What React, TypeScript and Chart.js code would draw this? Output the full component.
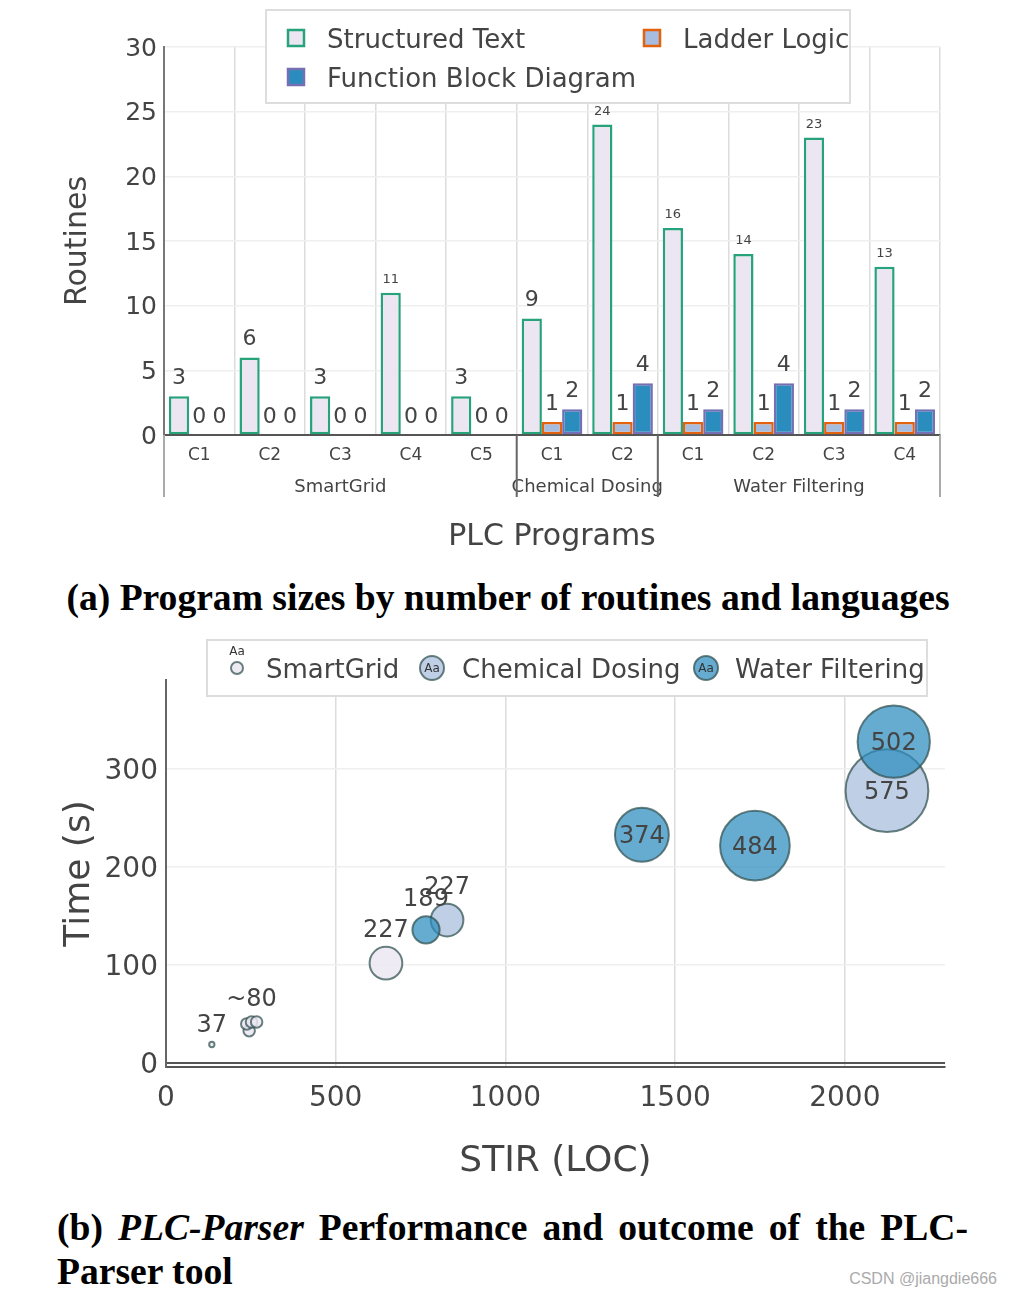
import React, { useEffect, useRef } from "react";
import { Chart, registerables } from "chart.js";

Chart.register(...registerables);

// ---------- (a) Program sizes ----------
const programLabels = ["C1", "C2", "C3", "C4", "C5", "C1", "C2", "C1", "C2", "C3", "C4"];
const programGroups = ["SmartGrid", "Chemical Dosing", "Water Filtering"];
const programGroupSizes = [5, 2, 4];
const structuredText = [3, 6, 3, 11, 3, 9, 24, 16, 14, 23, 13];
const ladderLogic = [0, 0, 0, 0, 0, 1, 1, 1, 1, 1, 1];
const functionBlock = [0, 0, 0, 0, 0, 2, 4, 2, 4, 2, 2];
const routineTicks = [0, 5, 10, 15, 20, 25, 30];

// ---------- (b) PLC-Parser performance ----------
const smartGridStir = [135, 245, 238, 252, 267, 648];
const smartGridTime = [19, 33, 40, 42, 42, 102];
const smartGridSize = [37, 80, 80, 80, 80, 227];
const smartGridText = ["37", "", "", "~80", "", "227"];

const chemicalStir = [828, 2124];
const chemicalTime = [146, 278];
const chemicalSize = [227, 575];
const chemicalText = ["227", "575"];

const waterStir = [766, 1402, 1735, 2144];
const waterTime = [136, 233, 222, 328];
const waterSize = [189, 374, 484, 502];
const waterText = ["189", "374", "484", "502"];

const stirTicks = [0, 500, 1000, 1500, 2000];
const timeTicks = [0, 100, 200, 300];

const FONT = '"DejaVu Sans"';
const TXT = "#444";
const R_SCALE = 0.072;

const ST_FILL = "#ebe6f2";
const ST_LINE = "#27a37b";
const LL_FILL = "#a7bddf";
const LL_LINE = "#e3620f";
const FB_FILL = "#2b8cbe";
const FB_LINE = "#7570b3";

const SG_FILL = "rgba(236,231,242,0.85)";
const CD_FILL = "rgba(166,189,219,0.72)";
const WF_FILL = "rgba(43,140,190,0.72)";
const BUB_LINE = "rgba(47,79,79,0.72)";

const barLabelPlugin = {
  id: "barLabels",
  afterDatasetsDraw(chart: any) {
    const ctx = chart.ctx;
    ctx.save();
    ctx.fillStyle = TXT;
    ctx.textAlign = "center";
    ctx.textBaseline = "middle";
    chart.data.datasets.forEach((ds: any, i: number) => {
      const meta = chart.getDatasetMeta(i);
      meta.data.forEach((el: any, j: number) => {
        const v = ds.data[j];
        const small = v >= 10;
        ctx.font = `${small ? 13 : 22}px ${FONT}`;
        ctx.fillText(String(v), el.x, el.y - (small ? 13 : 18));
      });
    });
    ctx.restore();
  },
};

const groupPlugin = {
  id: "groups",
  afterDraw(chart: any) {
    const ctx = chart.ctx;
    const xs = chart.scales.x;
    const area = chart.chartArea;
    const half = (xs.getPixelForValue(1) - xs.getPixelForValue(0)) / 2;
    ctx.save();
    let idx = 0;
    const edges: number[] = [];
    programGroups.forEach((name, g) => {
      const n = programGroupSizes[g];
      const left = xs.getPixelForValue(idx) - half;
      const right = xs.getPixelForValue(idx + n - 1) + half;
      if (g === 0) edges.push(left);
      edges.push(right);
      ctx.fillStyle = TXT;
      ctx.font = `18px ${FONT}`;
      ctx.textAlign = "center";
      ctx.textBaseline = "middle";
      ctx.fillText(name, (left + right) / 2, area.bottom + 52);
      idx += n;
    });
    edges.forEach((x, k) => {
      const outer = k === 0 || k === edges.length - 1;
      ctx.strokeStyle = outer ? "#aaa" : "#666";
      ctx.lineWidth = 2;
      ctx.beginPath();
      ctx.moveTo(x, area.bottom);
      ctx.lineTo(x, area.bottom + 62);
      ctx.stroke();
    });
    ctx.restore();
  },
};

const topLegendPlugin = {
  id: "topLegend",
  afterDraw(chart: any) {
    const ctx = chart.ctx;
    ctx.save();
    ctx.fillStyle = "#fff";
    ctx.fillRect(266, 10, 584, 93);
    ctx.strokeStyle = "#ddd";
    ctx.lineWidth = 2;
    ctx.strokeRect(266, 10, 584, 93);
    const items = [
      { name: "Structured Text", fill: ST_FILL, line: ST_LINE, x: 288, y: 38 },
      { name: "Ladder Logic", fill: LL_FILL, line: LL_LINE, x: 644, y: 38 },
      { name: "Function Block Diagram", fill: FB_FILL, line: FB_LINE, x: 288, y: 77 },
    ];
    items.forEach((it) => {
      ctx.fillStyle = it.fill;
      ctx.fillRect(it.x, it.y - 8, 16, 16);
      ctx.strokeStyle = it.line;
      ctx.lineWidth = 2.5;
      ctx.strokeRect(it.x, it.y - 8, 16, 16);
      ctx.fillStyle = TXT;
      ctx.font = `26px ${FONT}`;
      ctx.textAlign = "left";
      ctx.textBaseline = "middle";
      ctx.fillText(it.name, it.x + 39, it.y + 3);
    });
    ctx.restore();
  },
};

const bubbleLabelPlugin = {
  id: "bubbleLabels",
  afterDatasetsDraw(chart: any) {
    const ctx = chart.ctx;
    const texts = [smartGridText, chemicalText, waterText];
    const sizes = [smartGridSize, chemicalSize, waterSize];
    ctx.save();
    ctx.fillStyle = TXT;
    ctx.font = `24px ${FONT}`;
    ctx.textAlign = "center";
    ctx.textBaseline = "middle";
    chart.data.datasets.forEach((_ds: any, d: number) => {
      const meta = chart.getDatasetMeta(d);
      meta.data.forEach((el: any, j: number) => {
        const t = texts[d][j];
        if (!t) return;
        const r = sizes[d][j] * R_SCALE;
        if (r > 20) ctx.fillText(t, el.x, el.y + 2);
        else ctx.fillText(t, el.x, el.y - r - 16);
      });
    });
    ctx.restore();
  },
};

const bottomLegendPlugin = {
  id: "bottomLegend",
  afterDraw(chart: any) {
    const ctx = chart.ctx;
    ctx.save();
    ctx.fillStyle = "#fff";
    ctx.fillRect(207, 10, 720, 56);
    ctx.strokeStyle = "#ddd";
    ctx.lineWidth = 2;
    ctx.strokeRect(207, 10, 720, 56);
    const items = [
      { name: "SmartGrid", fill: SG_FILL, x: 237, r: 6, tx: 266 },
      { name: "Chemical Dosing", fill: CD_FILL, x: 432, r: 12, tx: 462 },
      { name: "Water Filtering", fill: WF_FILL, x: 706, r: 12, tx: 735 },
    ];
    items.forEach((it) => {
      const cy = 38;
      ctx.beginPath();
      ctx.arc(it.x, cy, it.r, 0, Math.PI * 2);
      ctx.fillStyle = it.fill;
      ctx.fill();
      ctx.strokeStyle = BUB_LINE;
      ctx.lineWidth = 2;
      ctx.stroke();
      ctx.fillStyle = "#333";
      ctx.font = `12px ${FONT}`;
      ctx.textAlign = "center";
      ctx.textBaseline = "middle";
      ctx.fillText("Aa", it.x, it.r < 10 ? cy - 16 : cy + 1);
      ctx.fillStyle = TXT;
      ctx.font = `26px ${FONT}`;
      ctx.textAlign = "left";
      ctx.fillText(it.name, it.tx, cy + 3);
    });
    ctx.restore();
  },
};

function toPoints(xs: number[], ys: number[], sz: number[]) {
  return xs.map((x, i) => ({ x, y: ys[i], r: sz[i] * R_SCALE }));
}

export default function App() {
  const topRef = useRef<HTMLCanvasElement>(null);
  const botRef = useRef<HTMLCanvasElement>(null);

  useEffect(() => {
    Chart.defaults.font.family = FONT;
    Chart.defaults.color = TXT;

    const barCommon = {
      borderWidth: 2.5,
      borderSkipped: false,
      categoryPercentage: 0.86,
      barPercentage: 1.0,
    };

    const top = new Chart(topRef.current as HTMLCanvasElement, {
      type: "bar",
      data: {
        labels: programLabels,
        datasets: [
          { label: "Structured Text", data: structuredText, backgroundColor: ST_FILL, borderColor: ST_LINE, ...barCommon },
          { label: "Ladder Logic", data: ladderLogic, backgroundColor: LL_FILL, borderColor: LL_LINE, ...barCommon },
          { label: "Function Block Diagram", data: functionBlock, backgroundColor: FB_FILL, borderColor: FB_LINE, ...barCommon },
        ],
      } as any,
      options: {
        responsive: false,
        animation: false,
        devicePixelRatio: 1,
        events: [],
        layout: { padding: { top: 47, right: 72, bottom: 0, left: 0 } },
        plugins: { legend: { display: false }, tooltip: { enabled: false } },
        scales: {
          x: {
            grid: {
              offset: true,
              drawTicks: false,
              color: (c: any) => (c.index === programLabels.length ? "rgba(0,0,0,0)" : "#dcdcdc"),
              lineWidth: 1.5,
            },
            border: { color: "#555", width: 2 },
            ticks: { font: { size: 17 }, color: TXT, padding: 10 },
            title: {
              display: true,
              text: "PLC Programs",
              font: { size: 30 },
              color: TXT,
              padding: { top: 0, bottom: 5 },
            },
            afterFit: (s: any) => {
              s.height = 125;
            },
          },
          y: {
            min: 0,
            max: 30,
            afterBuildTicks: (s: any) => {
              s.ticks = routineTicks.map((v) => ({ value: v }));
            },
            grid: { drawTicks: false, color: "#efefef", lineWidth: 1.5 },
            border: { color: "#777", width: 2 },
            ticks: { font: { size: 25 }, color: TXT, padding: 7, labelOffset: 2, callback: (v: any) => String(v) },
            title: {
              display: true,
              text: "Routines",
              font: { size: 30 },
              color: TXT,
              padding: { top: 60, bottom: 0 },
            },
            afterFit: (s: any) => {
              s.width = 164;
            },
          },
        },
      } as any,
      plugins: [barLabelPlugin, groupPlugin, topLegendPlugin],
    });

    const bottom = new Chart(botRef.current as HTMLCanvasElement, {
      type: "bubble",
      data: {
        datasets: [
          {
            label: "SmartGrid",
            data: toPoints(smartGridStir, smartGridTime, smartGridSize),
            backgroundColor: SG_FILL,
            borderColor: BUB_LINE,
            borderWidth: 2,
            order: 2,
          },
          {
            label: "Chemical Dosing",
            data: toPoints(chemicalStir, chemicalTime, chemicalSize),
            backgroundColor: CD_FILL,
            borderColor: BUB_LINE,
            borderWidth: 2,
            order: 1,
          },
          {
            label: "Water Filtering",
            data: toPoints(waterStir, waterTime, waterSize),
            backgroundColor: WF_FILL,
            borderColor: BUB_LINE,
            borderWidth: 2,
            order: 0,
          },
        ],
      } as any,
      options: {
        responsive: false,
        animation: false,
        devicePixelRatio: 1,
        events: [],
        layout: { padding: { top: 50, right: 67, bottom: 0, left: 0 } },
        plugins: { legend: { display: false }, tooltip: { enabled: false } },
        scales: {
          x: {
            type: "linear",
            min: 0,
            max: 2295,
            afterBuildTicks: (s: any) => {
              s.ticks = stirTicks.map((v) => ({ value: v }));
            },
            grid: { drawTicks: false, color: "#dcdcdc", lineWidth: 1.5 },
            border: { color: "#555", width: 2 },
            ticks: { font: { size: 28 }, color: TXT, padding: 15, callback: (v: any) => String(v) },
            title: {
              display: true,
              text: "STIR (LOC)",
              font: { size: 36 },
              color: TXT,
              padding: { top: 0, bottom: 7 },
            },
            afterFit: (s: any) => {
              s.height = 123;
            },
          },
          y: {
            type: "linear",
            min: -4,
            max: 391,
            afterBuildTicks: (s: any) => {
              s.ticks = timeTicks.map((v) => ({ value: v }));
            },
            grid: {
              drawTicks: false,
              color: (c: any) => (c.tick && c.tick.value === 0 ? "#555" : "#efefef"),
              lineWidth: (c: any) => (c.tick && c.tick.value === 0 ? 2 : 1.5),
            },
            border: { color: "#666", width: 2 },
            ticks: { font: { size: 28 }, color: TXT, padding: 8, labelOffset: 3, callback: (v: any) => String(v) },
            title: {
              display: true,
              text: "Time (s)",
              font: { size: 36 },
              color: TXT,
              padding: { top: 58, bottom: 0 },
            },
            afterFit: (s: any) => {
              s.width = 166;
            },
          },
        },
      } as any,
      plugins: [bubbleLabelPlugin, bottomLegendPlugin],
    });

    return () => {
      top.destroy();
      bottom.destroy();
    };
  }, []);

  const serif = '"Liberation Serif", "Times New Roman", serif';

  return (
    <div
      style={{
        position: "absolute",
        left: 0,
        top: 0,
        width: 1012,
        height: 1298,
        background: "#fff",
        overflow: "hidden",
      }}
    >
      <canvas
        ref={topRef}
        width={1012}
        height={560}
        style={{ position: "absolute", left: 0, top: 0, width: 1012, height: 560, display: "block" }}
      />
      <div
        style={{
          position: "absolute",
          left: 0,
          top: 576,
          width: 1016,
          textAlign: "center",
          fontFamily: serif,
          fontWeight: "bold",
          fontSize: 37.6,
          lineHeight: "44px",
          color: "#000",
          whiteSpace: "nowrap",
        }}
      >
        (a) Program sizes by number of routines and languages
      </div>
      <canvas
        ref={botRef}
        width={1012}
        height={560}
        style={{ position: "absolute", left: 0, top: 630, width: 1012, height: 560, display: "block" }}
      />
      <div
        style={{
          position: "absolute",
          left: 57,
          top: 1206,
          width: 911,
          fontFamily: serif,
          fontWeight: "bold",
          fontSize: 37.6,
          lineHeight: "44px",
          color: "#000",
          textAlign: "justify",
          textAlignLast: "justify",
          whiteSpace: "nowrap",
        } as any}
      >
        (b) <i>PLC-Parser</i> Performance and outcome of the PLC-
      </div>
      <div
        style={{
          position: "absolute",
          left: 57,
          top: 1250,
          fontFamily: serif,
          fontWeight: "bold",
          fontSize: 37.6,
          lineHeight: "44px",
          color: "#000",
          whiteSpace: "nowrap",
        }}
      >
        Parser tool
      </div>
      <div
        style={{
          position: "absolute",
          right: 15,
          top: 1270,
          fontFamily: '"Liberation Sans", Arial, sans-serif',
          fontSize: 16,
          lineHeight: "18px",
          color: "#aaa",
          whiteSpace: "nowrap",
        }}
      >
        CSDN @jiangdie666
      </div>
    </div>
  );
}
